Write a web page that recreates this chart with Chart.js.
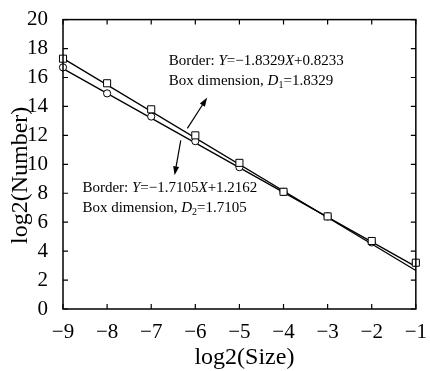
<!DOCTYPE html>
<html>
<head>
<meta charset="utf-8">
<script src="https://cdn.jsdelivr.net/npm/chart.js@4/dist/chart.umd.min.js"></script>
<style>
  html, body { margin: 0; padding: 0; background: #fff; }
  #wrap { width: 430px; height: 371px; }
</style>
</head>
<body>
<div id="wrap"><canvas id="chart" width="430" height="371"></canvas></div>
<script>
// data
const sizes = [-9, -8, -7, -6, -5, -4, -3, -2, -1];
const squareCounts = [17.3, 15.6, 13.8, 12.0, 10.1, 8.1, 6.4, 4.7, 3.2];
const circleCounts = [16.7, 14.9, 13.3, 11.6, 9.8, 8.1, 6.4, 4.6, 3.2];
const fitEnds = [-9, -1];
const fitSquare = [17.32, 2.66];   // Y = -1.8329X + 0.8233
const fitCircle = [16.61, 2.93];   // Y = -1.7105X + 1.2162
const xTicks = [-9, -8, -7, -6, -5, -4, -3, -2, -1];
const yTicks = [0, 2, 4, 6, 8, 10, 12, 14, 16, 18, 20];

const serif = "'Liberation Serif', 'Times New Roman', serif";
const pts = (xs, ys) => xs.map((x, i) => ({ x: x, y: ys[i] }));

// frame + inward ticks + axis titles + annotations
const decor = {
    id: 'decor',
    afterDraw(chart) {
        const { ctx, chartArea: a, scales: { x, y } } = chart;
        ctx.save();
        ctx.strokeStyle = '#000';
        ctx.lineWidth = 1.5;
        ctx.strokeRect(a.left, a.top, a.right - a.left, a.bottom - a.top);
        ctx.lineWidth = 1.2;
        ctx.beginPath();
        xTicks.forEach(v => {
            const px = x.getPixelForValue(v);
            ctx.moveTo(px, a.bottom); ctx.lineTo(px, a.bottom - 5);
            ctx.moveTo(px, a.top); ctx.lineTo(px, a.top + 5);
        });
        yTicks.forEach(v => {
            const py = y.getPixelForValue(v);
            ctx.moveTo(a.left, py); ctx.lineTo(a.left + 5, py);
            ctx.moveTo(a.right, py); ctx.lineTo(a.right - 5, py);
        });
        ctx.stroke();

        // axis titles
        ctx.fillStyle = '#000';
        ctx.font = '24px ' + serif;
        ctx.textAlign = 'center';
        ctx.textBaseline = 'alphabetic';
        ctx.fillText('log2(Size)', (a.left + a.right) / 2 + 5, 364);
        ctx.save();
        ctx.translate(27, (a.top + a.bottom) / 2 + 11);
        ctx.rotate(-Math.PI / 2);
        ctx.fillText('log2(Number)', 0, 0);
        ctx.restore();

        // equations
        const drawEq = (vx, vy, slope, icpt, sub, dim) => {
            let px = x.getPixelForValue(vx);
            let py = y.getPixelForValue(vy);
            ctx.textAlign = 'left';
            const seg = (t, italic, size, dy) => {
                ctx.font = (italic ? 'italic ' : '') + size + 'px ' + serif;
                ctx.fillText(t, px, py + (dy || 0));
                px += ctx.measureText(t).width;
            };
            const x0 = px;
            seg('Border: ', false, 15);
            seg('Y', true, 15);
            seg('=\u2212' + slope, false, 15);
            seg('X', true, 15);
            seg('+' + icpt, false, 15);
            px = x0; py += 20;
            seg('Box dimension, ', false, 15);
            seg('D', true, 15);
            seg(sub, false, 10, 3);
            seg('=' + dim, false, 15);
        };
        drawEq(-6.60, 16.83, '1.8329', '0.8233', '1', '1.8329');
        drawEq(-8.56, 8.07, '1.7105', '1.2162', '2', '1.7105');

        const arrow = (fx, fy, tx, ty) => {
            const x1 = x.getPixelForValue(fx), y1 = y.getPixelForValue(fy);
            const x2 = x.getPixelForValue(tx), y2 = y.getPixelForValue(ty);
            const ang = Math.atan2(y2 - y1, x2 - x1);
            ctx.lineWidth = 1.2;
            ctx.beginPath();
            ctx.moveTo(x1, y1); ctx.lineTo(x2 - 6 * Math.cos(ang), y2 - 6 * Math.sin(ang));
            ctx.stroke();
            ctx.beginPath();
            ctx.moveTo(x2, y2);
            ctx.lineTo(x2 - 9 * Math.cos(ang) + 3 * Math.sin(ang), y2 - 9 * Math.sin(ang) - 3 * Math.cos(ang));
            ctx.lineTo(x2 - 9 * Math.cos(ang) - 3 * Math.sin(ang), y2 - 9 * Math.sin(ang) + 3 * Math.cos(ang));
            ctx.closePath();
            ctx.fill();
        };
        arrow(-6.18, 12.48, -5.73, 14.62);
        arrow(-6.33, 11.66, -6.47, 9.24);
        ctx.restore();
    }
};

new Chart(document.getElementById('chart'), {
    type: 'scatter',
    data: {
        datasets: [
            {
                data: pts(fitEnds, fitSquare), showLine: true, borderColor: '#000',
                borderWidth: 1.3, pointRadius: 0, order: 3
            },
            {
                data: pts(fitEnds, fitCircle), showLine: true, borderColor: '#000',
                borderWidth: 1.3, pointRadius: 0, order: 3
            },
            {
                data: pts(sizes, circleCounts), pointStyle: 'circle', pointRadius: 3.6,
                backgroundColor: '#fff', borderColor: '#000', borderWidth: 1, order: 2
            },
            {
                data: pts(sizes, squareCounts), pointStyle: 'rect', pointRadius: 5,
                backgroundColor: '#fff', borderColor: '#000', borderWidth: 1, order: 1
            }
        ]
    },
    options: {
        responsive: false,
        animation: false,
        clip: false,
        layout: { padding: { top: 19, right: 7, left: 0, bottom: 0 } },
        plugins: { legend: { display: false }, tooltip: { enabled: false } },
        scales: {
            x: {
                type: 'linear', min: -9, max: -1,
                afterBuildTicks: s => { s.ticks = xTicks.map(v => ({ value: v })); },
                afterFit: s => { s.height = 62; },
                grid: { display: false },
                border: { display: false },
                ticks: {
                    color: '#000', padding: 3,
                    font: { family: serif, size: 21 },
                    callback: v => String(v).replace('-', '\u2212')
                }
            },
            y: {
                type: 'linear', min: 0, max: 20,
                afterBuildTicks: s => { s.ticks = yTicks.map(v => ({ value: v })); },
                afterFit: s => { s.width = 63; },
                grid: { display: false },
                border: { display: false },
                ticks: {
                    color: '#000', padding: 7,
                    font: { family: serif, size: 21 }
                }
            }
        }
    },
    plugins: [decor]
});
</script>
</body>
</html>
